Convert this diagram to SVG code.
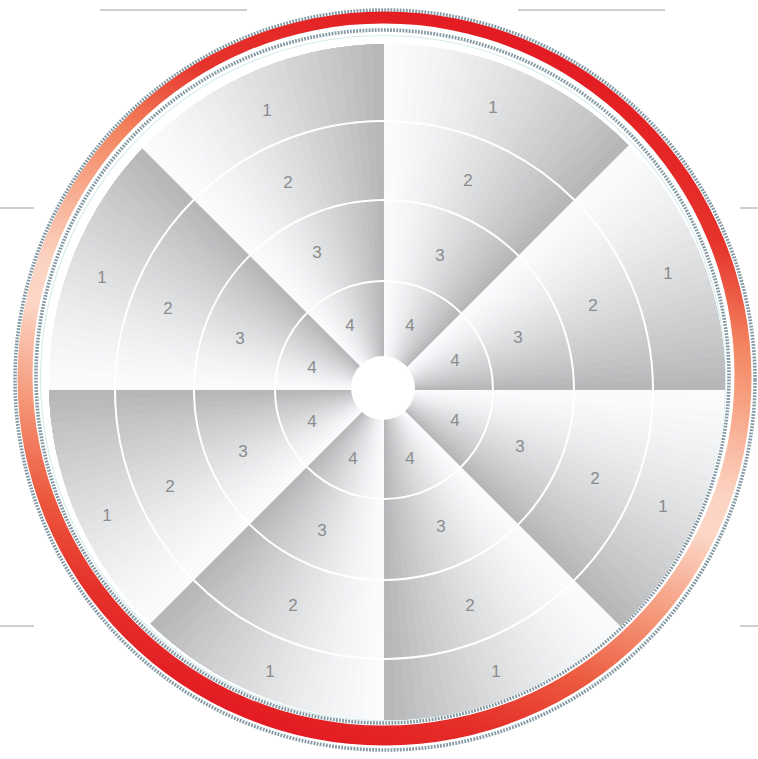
<svg xmlns="http://www.w3.org/2000/svg" xmlns:xlink="http://www.w3.org/1999/xlink" width="758" height="759" viewBox="0 0 758 759">
<style>
.lbl{font-family:"Liberation Sans",Arial,sans-serif;font-size:17px;fill:#8c8c8c;text-anchor:middle}
.tick{stroke:#cfcfcf;stroke-width:2;fill:none}
.dot{fill:none;stroke:#8399a3;stroke-width:3.6;stroke-dasharray:1.8 1.3}
.arc{fill:none;stroke:#ffffff;stroke-width:2}
</style>
<defs>
<linearGradient id="ringGrad" gradientUnits="userSpaceOnUse" x1="505" y1="28" x2="263" y2="728">
<stop offset="0" stop-color="#e31a22"/>
<stop offset="0.18" stop-color="#e6332b"/>
<stop offset="0.3" stop-color="#f3845f"/>
<stop offset="0.4" stop-color="#f8ad90"/>
<stop offset="0.5" stop-color="#fcd3c2"/>
<stop offset="0.56" stop-color="#fcd6c6"/>
<stop offset="0.68" stop-color="#f59a7c"/>
<stop offset="0.8" stop-color="#ec5a3f"/>
<stop offset="0.9" stop-color="#e5302a"/>
<stop offset="1" stop-color="#e31a22"/>
</linearGradient>
<clipPath id="outerClip"><circle cx="387" cy="382" r="338"/></clipPath>
<g id="w">
<path fill="rgb(250,251,253)" d="M0 0L0 -360A360 360 0 0 1 254.56 -254.56Z"/>
<path fill="rgb(249,250,252)" d="M0 0L11.78 -359.81A360 360 0 0 1 254.56 -254.56Z"/>
<path fill="rgb(247,248,250)" d="M0 0L23.55 -359.23A360 360 0 0 1 254.56 -254.56Z"/>
<path fill="rgb(245,246,248)" d="M0 0L35.29 -358.27A360 360 0 0 1 254.56 -254.56Z"/>
<path fill="rgb(243,244,246)" d="M0 0L46.99 -356.92A360 360 0 0 1 254.56 -254.56Z"/>
<path fill="rgb(241,242,244)" d="M0 0L58.64 -355.19A360 360 0 0 1 254.56 -254.56Z"/>
<path fill="rgb(238,239,241)" d="M0 0L70.23 -353.08A360 360 0 0 1 254.56 -254.56Z"/>
<path fill="rgb(236,237,239)" d="M0 0L81.75 -350.60A360 360 0 0 1 254.56 -254.56Z"/>
<path fill="rgb(233,234,236)" d="M0 0L93.17 -347.73A360 360 0 0 1 254.56 -254.56Z"/>
<path fill="rgb(230,231,233)" d="M0 0L104.50 -344.50A360 360 0 0 1 254.56 -254.56Z"/>
<path fill="rgb(227,228,230)" d="M0 0L115.72 -340.89A360 360 0 0 1 254.56 -254.56Z"/>
<path fill="rgb(224,225,227)" d="M0 0L126.81 -336.93A360 360 0 0 1 254.56 -254.56Z"/>
<path fill="rgb(221,222,224)" d="M0 0L137.77 -332.60A360 360 0 0 1 254.56 -254.56Z"/>
<path fill="rgb(218,219,221)" d="M0 0L148.57 -327.91A360 360 0 0 1 254.56 -254.56Z"/>
<path fill="rgb(215,216,218)" d="M0 0L159.22 -322.87A360 360 0 0 1 254.56 -254.56Z"/>
<path fill="rgb(211,212,214)" d="M0 0L169.70 -317.49A360 360 0 0 1 254.56 -254.56Z"/>
<path fill="rgb(208,209,211)" d="M0 0L180 -311.77A360 360 0 0 1 254.56 -254.56Z"/>
<path fill="rgb(205,206,208)" d="M0 0L190.10 -305.71A360 360 0 0 1 254.56 -254.56Z"/>
<path fill="rgb(201,202,204)" d="M0 0L200.01 -299.33A360 360 0 0 1 254.56 -254.56Z"/>
<path fill="rgb(198,199,201)" d="M0 0L209.69 -292.62A360 360 0 0 1 254.56 -254.56Z"/>
<path fill="rgb(194,195,197)" d="M0 0L219.15 -285.61A360 360 0 0 1 254.56 -254.56Z"/>
<path fill="rgb(190,191,193)" d="M0 0L228.38 -278.28A360 360 0 0 1 254.56 -254.56Z"/>
<path fill="rgb(186,187,189)" d="M0 0L237.36 -270.66A360 360 0 0 1 254.56 -254.56Z"/>
<path fill="rgb(182,183,185)" d="M0 0L246.09 -262.75A360 360 0 0 1 254.56 -254.56Z"/>
<path class="arc" d="M0 -109A109 109 0 0 1 77.07 -77.07"/>
<path class="arc" d="M0 -190A190 190 0 0 1 134.35 -134.35"/>
<path class="arc" d="M0 -269A269 269 0 0 1 190.21 -190.21"/>
</g>
</defs>
<rect width="758" height="759" fill="#ffffff"/>
<g id="ticks">
<line class="tick" x1="100" y1="10" x2="247" y2="10"/>
<line class="tick" x1="518" y1="10" x2="665" y2="10"/>
<line class="tick" x1="0" y1="208" x2="34" y2="208"/>
<line class="tick" x1="740" y1="208" x2="758" y2="208"/>
<line class="tick" x1="0" y1="626" x2="34" y2="626"/>
<line class="tick" x1="740" y1="626" x2="758" y2="626"/>
</g>
<g id="ring">
<circle class="dot" cx="385" cy="380" r="370"/>
<path fill="url(#ringGrad)" fill-rule="evenodd" d="M17.5 378.5a367 367 0 1 0 734 0a367 367 0 1 0 -734 0ZM32.5 374.5a351 351 0 1 0 702 0a351 351 0 1 0 -702 0Z"/>
<circle class="dot" cx="382.5" cy="376.5" r="346.5"/>
<circle cx="383" cy="378" r="342.5" fill="none" stroke="#d6ecec" stroke-width="1.2"/>
</g>
<g id="wedges" clip-path="url(#outerClip)">
<g id="wedge-top-right">
<use xlink:href="#w" href="#w" transform="translate(384 390)"/>
<text class="lbl" x="493" y="113">1</text><text class="lbl" x="468" y="186">2</text><text class="lbl" x="440" y="261">3</text><text class="lbl" x="410" y="331">4</text>
</g>
<g id="wedge-right-upper">
<use xlink:href="#w" href="#w" transform="translate(384 390) rotate(45)"/>
<text class="lbl" x="668" y="279">1</text><text class="lbl" x="593" y="311">2</text><text class="lbl" x="518" y="343">3</text><text class="lbl" x="455" y="366">4</text>
</g>
<g id="wedge-right-lower">
<use xlink:href="#w" href="#w" transform="translate(384 390) rotate(90)"/>
<text class="lbl" x="663" y="512">1</text><text class="lbl" x="595" y="484">2</text><text class="lbl" x="520" y="452">3</text><text class="lbl" x="455" y="426">4</text>
</g>
<g id="wedge-bottom-right">
<use xlink:href="#w" href="#w" transform="translate(384 390) rotate(135)"/>
<text class="lbl" x="496" y="677">1</text><text class="lbl" x="470" y="611">2</text><text class="lbl" x="441" y="532">3</text><text class="lbl" x="410" y="464">4</text>
</g>
<g id="wedge-bottom-left">
<use xlink:href="#w" href="#w" transform="translate(384 390) rotate(180)"/>
<text class="lbl" x="270" y="677">1</text><text class="lbl" x="293" y="611">2</text><text class="lbl" x="322" y="536">3</text><text class="lbl" x="353" y="464">4</text>
</g>
<g id="wedge-left-lower">
<use xlink:href="#w" href="#w" transform="translate(384 390) rotate(225)"/>
<text class="lbl" x="107" y="521">1</text><text class="lbl" x="170" y="492">2</text><text class="lbl" x="243" y="457">3</text><text class="lbl" x="312" y="427">4</text>
</g>
<g id="wedge-left-upper">
<use xlink:href="#w" href="#w" transform="translate(384 390) rotate(270)"/>
<text class="lbl" x="102" y="283">1</text><text class="lbl" x="168" y="314">2</text><text class="lbl" x="240" y="344">3</text><text class="lbl" x="312" y="373">4</text>
</g>
<g id="wedge-top-left">
<use xlink:href="#w" href="#w" transform="translate(384 390) rotate(315)"/>
<text class="lbl" x="267" y="116">1</text><text class="lbl" x="288" y="188">2</text><text class="lbl" x="317" y="258">3</text><text class="lbl" x="350" y="331">4</text>
</g>
</g>
<g id="hub"><circle cx="383" cy="388" r="32" fill="#ffffff"/></g>
</svg>
